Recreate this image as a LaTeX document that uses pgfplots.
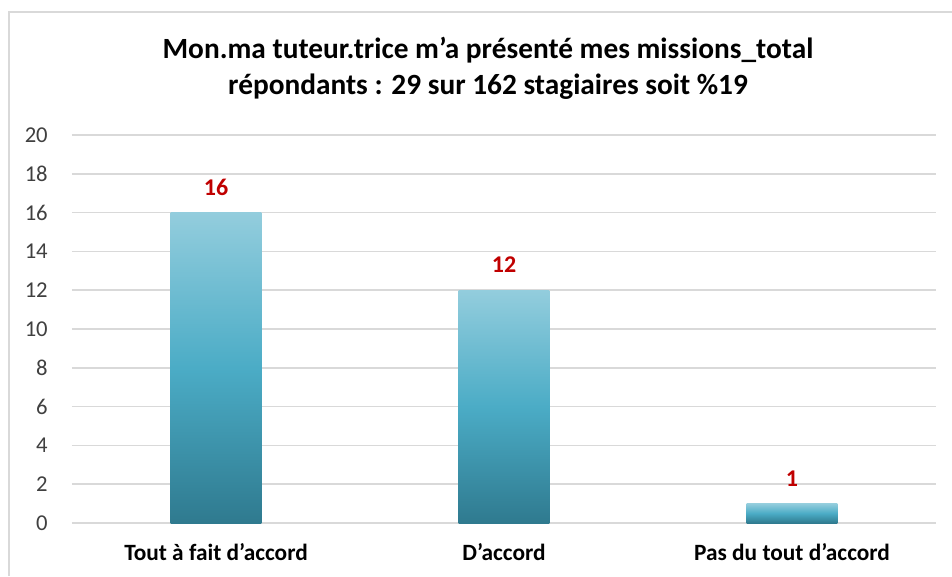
\documentclass[border=0pt]{standalone}
\usepackage{pgfplots}
\pgfplotsset{compat=1.18}
\usepackage{fontspec}
\setmainfont{Carlito}
\definecolor{gridc}{HTML}{D9D9D9}
\definecolor{ticktext}{HTML}{404040}
\definecolor{labelred}{HTML}{C00000}
\definecolor{bartop}{HTML}{93CDDD}
\definecolor{barmid}{HTML}{4BACC6}
\definecolor{barbot}{HTML}{2F7A8F}
\begin{document}
\begin{tikzpicture}
% frame and title, in pixel units
\begin{scope}[x=0.75pt,y=0.75pt]
\path[use as bounding box] (0,0) rectangle (952,576);
\draw[gridc, line width=1.1pt] (9,0) -- (9,564) -- (952,564);
\node[anchor=base, font=\bfseries\fontsize{22}{26}\selectfont] at (488,517)
  {Mon.ma tuteur.trice m’a présenté mes missions\_total};
\node[anchor=base, font=\bfseries\fontsize{22}{26}\selectfont] at (488,481)
  {répondants : 29 sur 162  stagiaires soit \%19};
\end{scope}
\begin{axis}[
    at={(54pt,39.75pt)}, anchor=south west,
    scale only axis,
    width=648pt, height=291pt,
    ybar, bar width=68pt, bar shift=0pt,
    xmin=-0.5, xmax=2.5,
    ymin=0, ymax=20,
    xtick={0,1,2},
    xticklabels={Tout  à fait d’accord, D’accord, Pas du tout  d’accord},
    ytick={0,2,...,20},
    axis line style={draw=none},
    major tick length=0pt,
    ymajorgrids,
    grid style={gridc, line width=1.1pt},
    /pgf/number format/assume math mode=true,
    yticklabel style={font=\fontsize{17}{19}\selectfont, text=ticktext,
        anchor=east, inner sep=0pt, xshift=-18pt},
    xticklabel style={font=\bfseries\fontsize{17.5}{20}\selectfont, text=black,
        anchor=base, yshift=-27.75pt},
    nodes near coords,
    every node near coord/.append style={font=\bfseries\fontsize{18}{20}\selectfont,
        text=labelred, anchor=base, yshift=13pt},
    barstyle/.style={draw=none, top color=bartop, bottom color=barbot, middle color=barmid},
]
% one plot per bar so each bar gets its own gradient
\addplot[barstyle] coordinates {(0,16)};
\addplot[barstyle] coordinates {(1,12)};
\addplot[barstyle] coordinates {(2,1)};
\end{axis}
\end{tikzpicture}
\end{document}
